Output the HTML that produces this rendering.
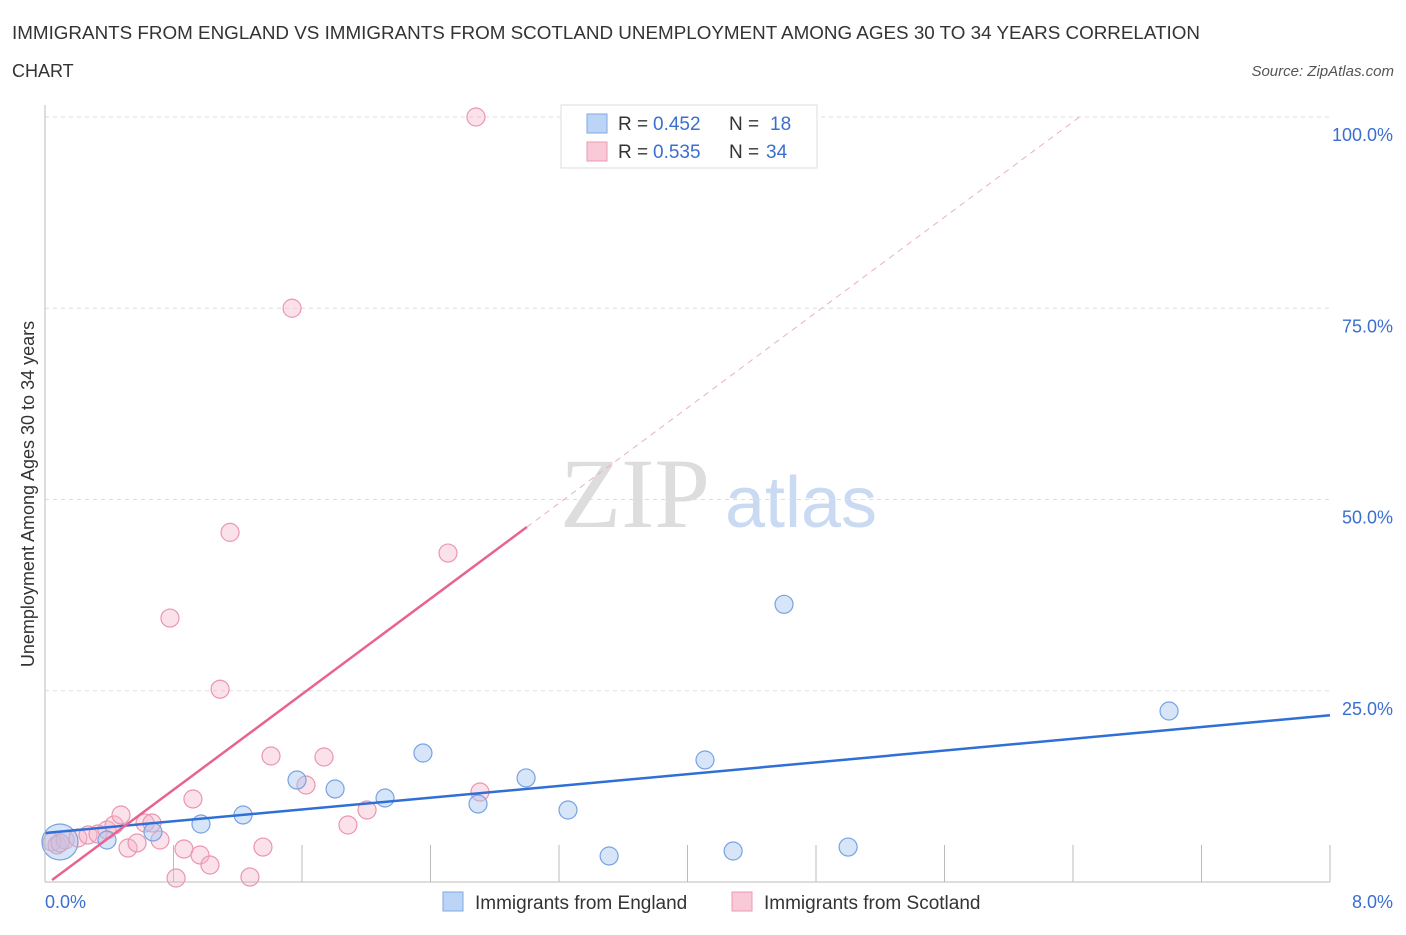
<!DOCTYPE html>
<html><head><meta charset="utf-8"><style>
body{margin:0;background:#fff;font-family:"Liberation Sans",sans-serif}
</style></head><body>
<svg id="c" width="1406" height="930" font-family="Liberation Sans, sans-serif">
<text x="12" y="39" font-size="18" fill="#333" textLength="1188" lengthAdjust="spacingAndGlyphs">IMMIGRANTS FROM ENGLAND VS IMMIGRANTS FROM SCOTLAND UNEMPLOYMENT AMONG AGES 30 TO 34 YEARS CORRELATION</text>
<text x="12" y="77" font-size="18" fill="#333">CHART</text>
<text x="1394" y="76" font-size="15" fill="#555" font-style="italic" text-anchor="end">Source: ZipAtlas.com</text>
<text x="635" y="527" font-size="100" fill="#ddd" style="font-family:'Liberation Serif',serif" text-anchor="middle">ZIP</text>
<text x="801" y="527" font-size="72" fill="#c9daf2" text-anchor="middle">atlas</text>
<text transform="translate(34,494) rotate(-90)" font-size="18" fill="#333" text-anchor="middle">Unemployment Among Ages 30 to 34 years</text>
<g id="grid"></g><g id="pts"></g><g id="lines"></g>
<line x1="45" y1="105" x2="45" y2="882" stroke="#bbb"/>
<line x1="45" y1="882" x2="1330" y2="882" stroke="#bbb"/>
<text x="45" y="908" font-size="18" fill="#3a6fd0">0.0%</text>
<text x="1393" y="908" font-size="18" fill="#3a6fd0" text-anchor="end">8.0%</text>
<g>
<rect x="561" y="105" width="256" height="63" fill="#fff" stroke="#ddd"/>
<rect x="587" y="114" width="20" height="19" fill="#bcd4f5" stroke="#7fa8e6"/>
<rect x="587" y="142" width="20" height="19" fill="#f9c9d7" stroke="#ec9ab2"/>
<text x="618" y="130" font-size="19" fill="#333">R = </text><text x="653" y="130" font-size="19" fill="#3a6fd0">0.452</text>
<text x="729" y="130" font-size="19" fill="#333">N = </text><text x="770" y="130" font-size="19" fill="#3a6fd0">18</text>
<text x="618" y="158" font-size="19" fill="#333">R = </text><text x="653" y="158" font-size="19" fill="#3a6fd0">0.535</text>
<text x="729" y="158" font-size="19" fill="#333">N = </text><text x="766" y="158" font-size="19" fill="#3a6fd0">34</text>
</g>
<g>
<rect x="443" y="892" width="20" height="19" fill="#bcd4f5" stroke="#7fa8e6"/>
<text x="475" y="909" font-size="19" fill="#333">Immigrants from England</text>
<rect x="732" y="892" width="20" height="19" fill="#f9c9d7" stroke="#ec9ab2"/>
<text x="764" y="909" font-size="19" fill="#333">Immigrants from Scotland</text>
</g>
</svg>
<script>
const yTicks=[25,50,75,100];
const xTicks=[0.8,1.6,2.4,3.2,4.0,4.8,5.6,6.4,7.2,8.0];
const engX=[0.093,0.386,0.672,0.971,1.233,1.569,1.806,2.117,2.353,2.696,2.995,3.256,3.512,4.109,4.284,4.601,5.0,6.998];
const engY=[5.23,5.49,6.54,7.58,8.76,13.33,12.16,10.98,16.86,10.2,13.6,9.41,3.4,15.95,4.05,36.3,4.57,22.35];
const engR=[18,9,9,9,9,9,9,9,9,9,9,9,9,9,9,9,9,9];
const scoX=[0.044,0.075,0.125,0.205,0.268,0.33,0.386,0.43,0.473,0.517,0.573,0.623,0.666,0.716,0.778,0.816,0.865,0.921,0.965,1.027,1.09,1.152,1.276,1.357,1.407,1.538,1.625,1.737,1.886,2.005,2.509,2.683,2.708,0.093];
const scoY=[5.23,4.84,5.49,5.75,6.14,6.27,6.8,7.45,8.76,4.44,5.1,7.71,7.71,5.49,34.5,0.52,4.31,10.85,3.53,2.22,25.2,45.7,0.65,4.57,16.47,75.0,12.68,16.34,7.45,9.41,43.0,100,11.76,5.1];
const engLine=[[0,6.4],[8,21.8]];
const scoLine=[[0.044,0.26],[3.0,46.4]];
const scoDash=[[3.0,46.4],[6.44,100]];
const X=v=>45+v/8*1285, Y=v=>882-v*7.65;
const NS="http://www.w3.org/2000/svg";
function mk(t,p,a){const e=document.createElementNS(NS,t);for(const k in a)e.setAttribute(k,a[k]);p.appendChild(e);return e;}
const g=document.getElementById('grid'),pts=document.getElementById('pts'),ln=document.getElementById('lines');
yTicks.forEach(t=>{
 const l=mk('line',g,{x1:45,x2:1330,y1:Y(t),y2:Y(t),stroke:'#ddd','stroke-dasharray':'4,4'});
 
 
 const tx=mk('text',g,{x:1393,y:Y(t)+24,'font-size':18,fill:'#3a6fd0','text-anchor':'end'});
 tx.textContent=t.toFixed(1)+'%';
 
 
});
xTicks.forEach(t=>{
 const l=mk('line',g,{x1:X(t),x2:X(t),y1:845,y2:882,stroke:'#bbb'});
 
 
});
scoX.forEach((x,i)=>{
 const c=mk('circle',pts,{cx:X(x),cy:Y(scoY[i]),r:9,fill:'rgba(246,180,200,0.4)',stroke:'#ec95b0','stroke-width':1.2});
 
 
});
engX.forEach((x,i)=>{
 const c=mk('circle',pts,{cx:X(x),cy:Y(engY[i]),r:engR[i],fill:'rgba(165,198,240,0.45)',stroke:'#78a2e2','stroke-width':1.2});
 
 
});
const b=mk('line',ln,{x1:X(engLine[0][0]),y1:Y(engLine[0][1]),x2:X(engLine[1][0]),y2:Y(engLine[1][1]),stroke:'#2f6fd6','stroke-width':2.5});


const p=mk('line',ln,{x1:X(scoLine[0][0]),y1:Y(scoLine[0][1]),x2:X(scoLine[1][0]),y2:Y(scoLine[1][1]),stroke:'#e8648f','stroke-width':2.5});


const d=mk('line',ln,{x1:X(scoDash[0][0]),y1:Y(scoDash[0][1]),x2:X(scoDash[1][0]),y2:Y(scoDash[1][1]),stroke:'#eab0c2','stroke-width':1,'stroke-dasharray':'6,5'});


</script>
</body></html>
